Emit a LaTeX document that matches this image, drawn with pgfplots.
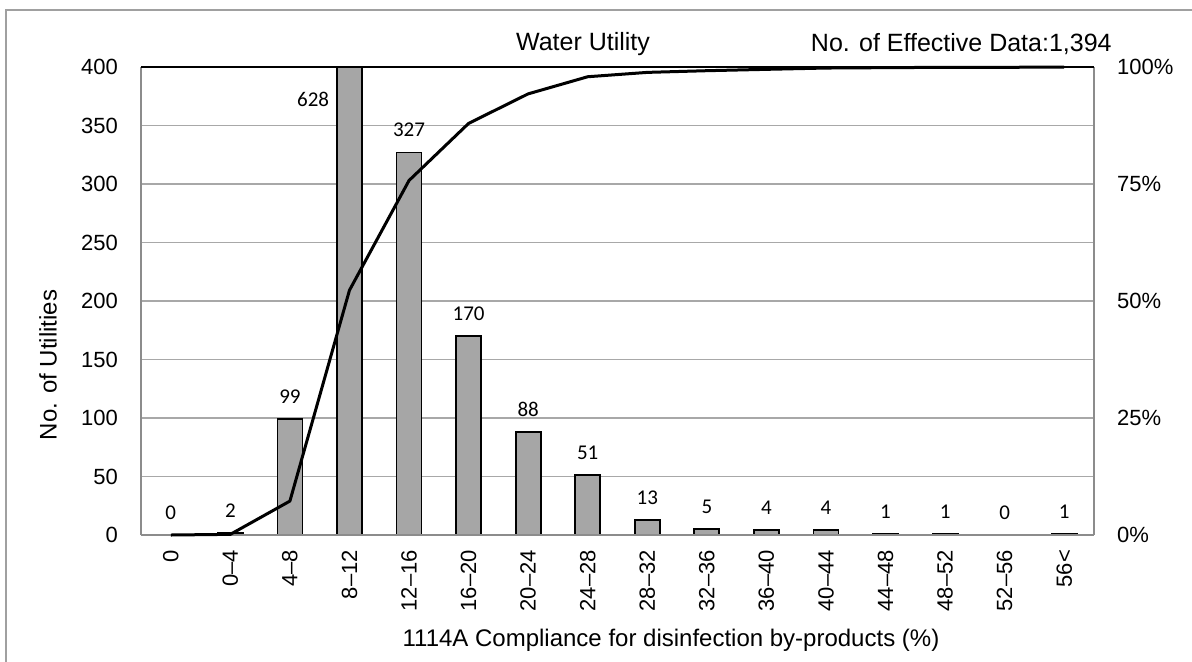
\documentclass[border=0pt]{standalone}
\usepackage{fontspec}
\setmainfont{Liberation Sans}
\newfontfamily\calibri{Carlito}
\usepackage{pgfplots}
\pgfplotsset{compat=1.18}
\definecolor{barfill}{HTML}{A6A6A6}
\definecolor{gridc}{HTML}{A8A8A8}
\definecolor{spine}{HTML}{8C8C8C}
\definecolor{frame}{HTML}{A0A0A0}
\begin{document}
\begin{tikzpicture}[x=1pt,y=1pt]
\useasboundingbox (0,0) rectangle (596,330.5);
\draw[frame, line width=0.8pt] (3,-2) -- (3,325.5) -- (600,325.5);
\begin{axis}[
  at={(70.5pt,63pt)}, anchor=south west,
  scale only axis, width=476.5pt, height=234pt,
  xmin=-0.5, xmax=15.5, ymin=0, ymax=400,
  ytick={0,50,...,400},
  xtick={0,...,15},
  xticklabels={0,0–4,4–8,8–12,12–16,16–20,20–24,24–28,28–32,32–36,36–40,40–44,44–48,48–52,52–56,56<},
  /pgf/number format/assume math mode=true,
  ticklabel style={font=\fontsize{11}{13}\selectfont},
  x tick label style={rotate=90, anchor=east},
  xticklabel shift=4pt,
  yticklabel shift=8pt,
  tick style={draw=none},
  major tick length=0pt,
  axis line style={draw=none},
  ymajorgrids, grid style={gridc, line width=0.6pt},
  ybar, bar width=12.5pt, bar shift=0pt,
  nodes near coords,
  point meta=explicit symbolic,
  nodes near coords style={font=\calibri\fontsize{10.5}{12}\selectfont, anchor=south, yshift=4pt, black},
  after end axis/.code={
    \draw[spine, line width=1.1pt] (rel axis cs:0,0) -- (rel axis cs:0,1);
    \draw[spine, line width=1.1pt] (rel axis cs:1,0) -- (rel axis cs:1,1);
    \draw[spine, line width=1.4pt] (rel axis cs:0,0) -- (rel axis cs:1,0);
    \draw[black, line width=1.3pt] (rel axis cs:0,1) -- (rel axis cs:1,1);
  },
]
\addplot[fill=barfill, draw=black, line width=0.9pt] coordinates {
  (0,0) [0] (1,2) [2] (2,99) [99] (3,628) [] (4,327) [327] (5,170) [170]
  (6,88) [88] (7,51) [51] (8,13) [13] (9,5) [5] (10,4) [4] (11,4) [4]
  (12,1) [1] (13,1) [1] (14,0) [0] (15,1) [1]
};
\node[font=\calibri\fontsize{10.5}{12}\selectfont] at (axis cs:2.39,372.6) {628};
\end{axis}
\begin{axis}[
  at={(70.5pt,63pt)}, anchor=south west,
  scale only axis, width=476.5pt, height=234pt,
  xmin=-0.5, xmax=15.5, ymin=0, ymax=100,
  axis x line=none,
  axis y line*=right,
  y axis line style={draw=none},
  ytick={0,25,...,100},
  yticklabels={0\%,25\%,50\%,75\%,100\%},
  ticklabel style={font=\fontsize{11}{13}\selectfont},
  yticklabel shift=8pt,
  tick style={draw=none},
  major tick length=0pt,
  clip=false,
]
\addplot[black, line width=1.5pt, line join=round] coordinates {
  (0,0) (1,0.14) (2,7.25) (3,52.30) (4,75.75) (5,87.95) (6,94.26) (7,97.92)
  (8,98.85) (9,99.21) (10,99.50) (11,99.78) (12,99.86) (13,99.93) (14,99.93) (15,100)
};
\end{axis}
\node[font=\fontsize{12.5}{14}\selectfont] at (291.5,308.5) {Water Utility};
\node[font=\fontsize{12.5}{14}\selectfont, anchor=east, inner sep=0pt] at (556,308.5) {No. of Effective Data:1,394};
\node[font=\fontsize{12}{14}\selectfont, rotate=90] at (24,148) {No. of Utilities};
\node[font=\fontsize{12}{14}\selectfont] at (335.5,10.5) {1114A Compliance for disinfection by-products (\%)};
\end{tikzpicture}
\end{document}
